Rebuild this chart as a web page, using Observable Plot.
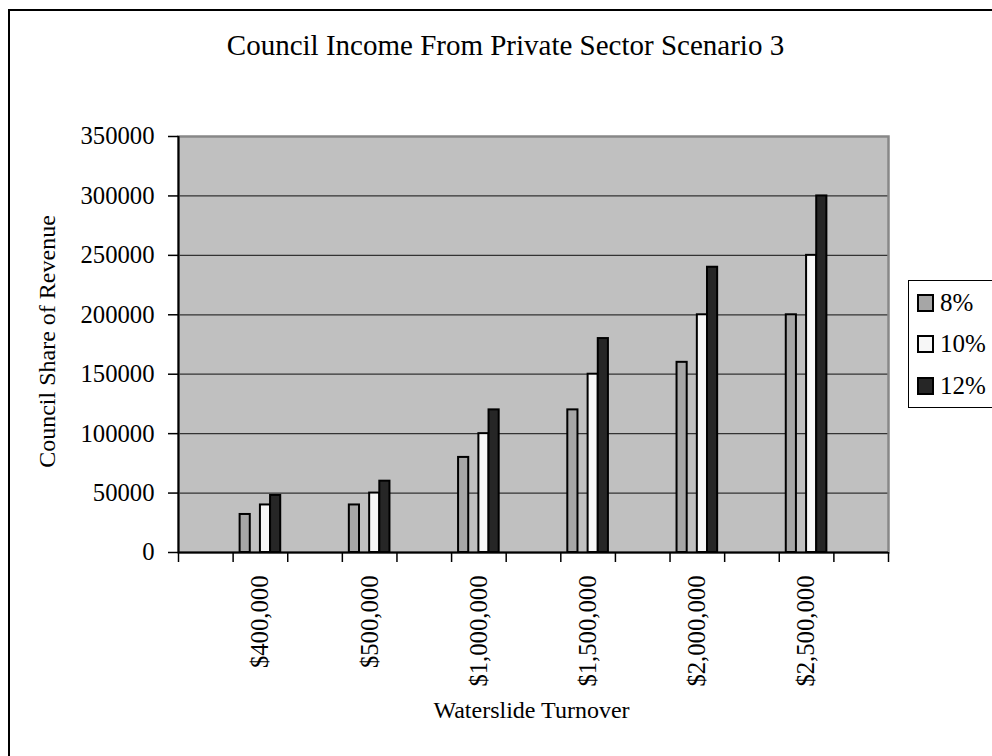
<!DOCTYPE html>
<html>
<head>
<meta charset="utf-8">
<script src="https://cdn.jsdelivr.net/npm/d3@7"></script>
<script src="https://cdn.jsdelivr.net/npm/@observablehq/plot@0.6"></script>
<style>
  html, body { margin: 0; padding: 0; background: #fff; }
  #wrap { position: relative; width: 992px; height: 756px; overflow: hidden; font-family: "Liberation Serif", serif; }
  #border { position: absolute; left: 8px; top: 9px; width: 1100px; height: 900px; border-left: 2px solid #000; border-top: 2px solid #000; }
  #chart { position: absolute; left: 0; top: 0; }
  #legend { position: absolute; left: 908px; top: 280px; width: 120px; height: 126px; border: 1px solid #000; background: #fff; }
  .row { position: absolute; left: 8px; height: 26px; display: flex; align-items: center; font-size: 25px; line-height: 26px; }
  .sw { width: 13px; height: 14px; border: 2px solid #000; margin-right: 6px; }
</style>
</head>
<body>
<div id="wrap">
  <div id="border"></div>
  <div id="chart"></div>
  <div id="legend"></div>
</div>
<script>
// ---- data ----
const turnover = ["$400,000", "$500,000", "$1,000,000", "$1,500,000", "$2,000,000", "$2,500,000"];
const series = ["8%", "10%", "12%"];
const share8 = [32000, 40000, 80000, 120000, 160000, 200000];
const share10 = [40000, 50000, 100000, 150000, 200000, 250000];
const share12 = [48000, 60000, 120000, 180000, 240000, 300000];
const yTicks = [0, 50000, 100000, 150000, 200000, 250000, 300000, 350000];
const titleText = "Council Income From Private Sector Scenario 3";
const xTitle = "Waterslide Turnover";
const yTitle = "Council Share of Revenue";

// ---- layout / style ----
const W = 992, H = 756;
const mL = 178, mR = 104, mT = 136, mB = 204;
const colors = {"8%": "#a6a6a6", "10%": "#f7f7f7", "12%": "#262626"};
const subIndex = {"8%": 0, "10%": 2, "12%": 3}; // blank series between 8% and 10%

// category slots: blank columns between labelled turnovers
const slots = d3.range(13).map(i => i % 2 ? turnover[(i - 1) / 2] : "gap" + i);
const bw = (W - mL - mR) / slots.length;
const wBar = bw / 5.38, gap = bw - 4 * wBar;

const valuesBy = {"8%": share8, "10%": share10, "12%": share12};
const barMarks = series.map(s => {
  const k = subIndex[s];
  const rows = turnover.map((t, i) => ({slot: t, value: valuesBy[s][i], series: s}));
  return Plot.barY(rows, {
    x: "slot", y: "value",
    fill: colors[s], stroke: "#000", strokeWidth: 2,
    insetLeft: gap / 2 + k * wBar,
    insetRight: bw - (gap / 2 + (k + 1) * wBar)
  });
});

const chart = Plot.plot({
  width: W, height: H,
  marginLeft: mL, marginRight: mR, marginTop: mT, marginBottom: mB,
  style: {fontFamily: "Liberation Serif", fontSize: "24.7px", color: "#000", background: "transparent"},
  x: {type: "band", domain: slots, padding: 0, round: false, label: null, axis: null},
  y: {domain: [0, 350000], label: null, axis: null},
  marks: [
    Plot.frame({fill: "#c0c0c0"}),
    Plot.gridY(yTicks.slice(1, -1), {stroke: "#333", strokeOpacity: 1, strokeWidth: 1.2}),
    Plot.frame({stroke: "#888", strokeWidth: 2.5}),
    ...barMarks,
    Plot.ruleY([0], {stroke: "#000", strokeWidth: 2}),
    Plot.ruleX([slots[0]], {dx: -bw / 2, stroke: "#000", strokeWidth: 2}),
    Plot.ruleX(slots, {dx: -bw / 2, stroke: "#000", strokeWidth: 1.5, insetTop: H - mT - mB, insetBottom: -10}),
    Plot.ruleX([slots[slots.length - 1]], {dx: bw / 2, stroke: "#000", strokeWidth: 1.5, insetTop: H - mT - mB, insetBottom: -10}),
    Plot.axisY(yTicks, {tickSize: 10, tickPadding: 14, tickFormat: d3.format("d"), stroke: "#000", strokeWidth: 1.5, label: null}),
    Plot.axisX(turnover, {tickSize: 0, tickRotate: -90, tickPadding: 23, label: null}),
    Plot.text([titleText], {frameAnchor: "top", lineAnchor: "middle", dx: -28, dy: -91, fontSize: 29, fill: "#000"}),
    Plot.text([xTitle], {frameAnchor: "bottom", lineAnchor: "middle", dx: -2, dy: 158, fontSize: 24, fill: "#000"}),
    Plot.text([yTitle], {frameAnchor: "left", textAnchor: "middle", lineAnchor: "middle", rotate: -90, dx: -131, dy: -3, fontSize: 24, fill: "#000"})
  ]
});
document.getElementById("chart").appendChild(chart);

// legend
const legend = document.getElementById("legend");
const rowTops = [9, 50, 92];
series.forEach((s, i) => {
  const row = document.createElement("div");
  row.className = "row";
  row.style.top = rowTops[i] + "px";
  const sw = document.createElement("div");
  sw.className = "sw";
  sw.style.background = colors[s];
  row.appendChild(sw);
  row.appendChild(document.createTextNode(s));
  legend.appendChild(row);
});
</script>
</body>
</html>
